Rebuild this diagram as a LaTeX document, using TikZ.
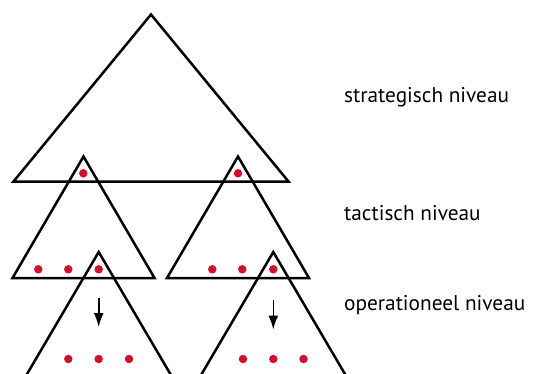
\documentclass[tikz,border=0pt]{standalone}
\usepackage{fontspec}
\setmainfont{PT Sans}
\usetikzlibrary{arrows.meta}
\definecolor{dotred}{RGB}{208,16,48}

\begin{document}
\begin{tikzpicture}[
			x = 1pt, y = -1pt,
			level/.style = {draw, line width = 2.5pt, line join = miter},
			dot/.style = {circle, fill = dotred, inner sep = 0pt, minimum size = 8.5pt},
			flow/.style = {draw, line width = 1.6pt, -{Latex[length = 14pt, width = 10pt]}},
			levelname/.style = {anchor = base west, inner sep = 0pt, font = \fontsize{21.3}{25}\selectfont}]
			\useasboundingbox (0,0) rectangle (546,373);
			\clip (0,0) rectangle (546,373);

			% apexes of the triangles
			\coordinate (top) at (151,14.5);
			\coordinate (midL) at (83.5,156.5);
			\coordinate (midR) at (238,156.5);
			\coordinate (lowL) at (98.7,252);
			\coordinate (lowR) at (273.3,252);

			% triangles
			\draw[level] (top) -- ++(-137.5,167) -- ++(275,0) -- cycle;
			\draw[level] (midL) -- ++(-71,121.5) -- ++(142,0) -- cycle;
			\draw[level] (midR) -- ++(-71,121.5) -- ++(142,0) -- cycle;
			\draw[level] (lowL) -- ++(-74,126) -- ++(148,0) -- cycle;
			\draw[level] (lowR) -- ++(-74,126) -- ++(148,0) -- cycle;

			% red dots
			\node[dot] (sL) at (83.3,173.3) {};
			\node[dot] (sR) at (238,173.3) {};
			\foreach \x [count = \i] in {38.3, 68.3, 98.7} {
				\node[dot] (tL\i) at (\x,269.3) {};
			}
			\foreach \x [count = \i] in {212.3, 242.3, 273.3} {
				\node[dot] (tR\i) at (\x,269.3) {};
			}
			\foreach \x [count = \i] in {68.3, 98.7, 129} {
				\node[dot] (oL\i) at (\x,359) {};
			}
			\foreach \x [count = \i] in {243, 273.3, 303.5} {
				\node[dot] (oR\i) at (\x,359) {};
			}

			% arrows
			\coordinate (aL1) at (98.7,298);
			\coordinate (aL2) at (98.7,327);
			\coordinate (aR1) at (273.3,300);
			\coordinate (aR2) at (273.3,329.5);
			\draw[flow] (aL1) -- (aL2);
			\draw[flow] (aR1) -- (aR2);

			% Labels
			\node[levelname] (strat) at (344,102.7) {strategisch niveau};
			\node[levelname] (tact) at (344,220) {tactisch niveau};
			\node[levelname] (oper) at (344,310) {operationeel niveau};
		\end{tikzpicture}
\end{document}
